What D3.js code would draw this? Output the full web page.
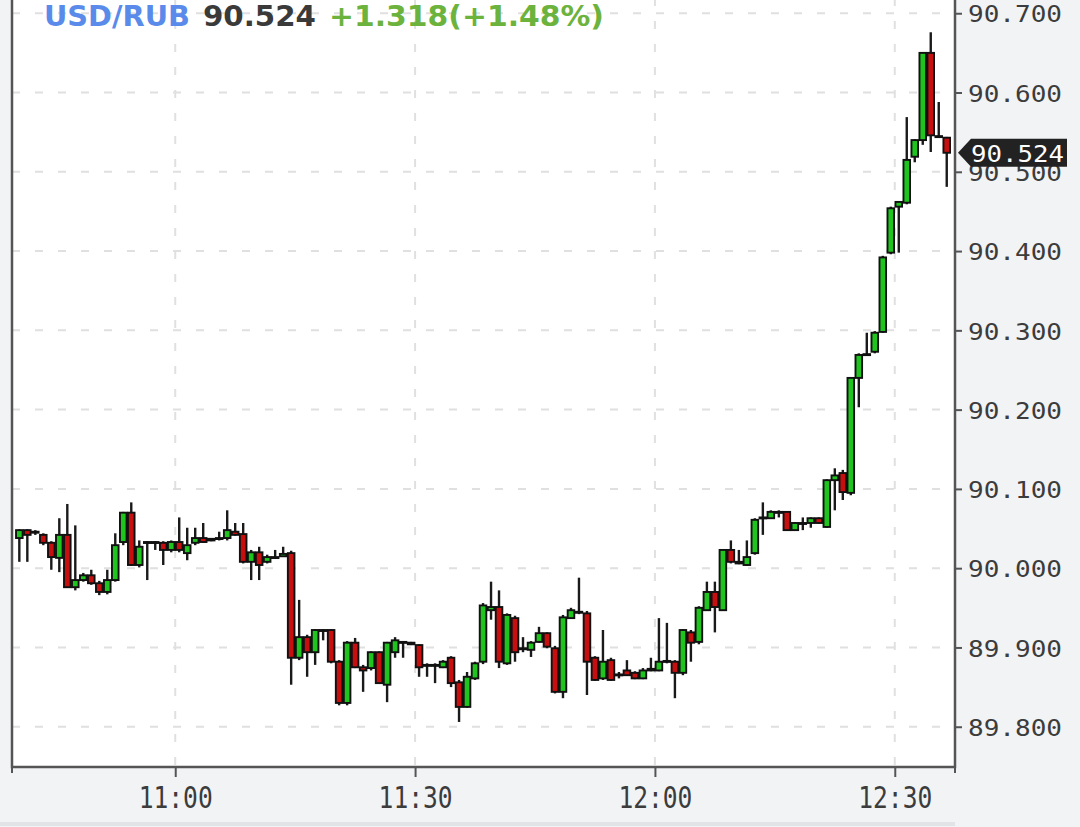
<!DOCTYPE html>
<html>
<head>
<meta charset="utf-8">
<script src="https://cdn.jsdelivr.net/npm/d3@7"></script>
<style>
  body { margin: 0; background: #f2f3f5; }
  svg { display: block; }
</style>
</head>
<body>
<svg id="chart"></svg>
<script>
// 1 minute USD/RUB candles, 10:40 .. 12:36
let symbol = 'USD/RUB'
let change = '+1.318'
let changePct = '(+1.48%)'

let open = [90.038, 90.048, 90.046, 90.042, 90.032, 90.013, 90.042, 89.976, 89.985, 89.991,
  89.981, 89.970, 89.985, 90.033, 90.070, 90.004, 90.032, 90.033, 90.032, 90.023,
  90.033, 90.019, 90.032, 90.038, 90.035, 90.037, 90.038, 90.046, 90.043, 90.008,
  90.020, 90.008, 90.014, 90.015, 90.019, 89.887, 89.913, 89.894, 89.922, 89.922,
  89.882, 89.830, 89.906, 89.875, 89.874, 89.894, 89.853, 89.894, 89.907, 89.906,
  89.903, 89.878, 89.877, 89.875, 89.887, 89.856, 89.825, 89.861, 89.882, 89.947,
  89.951, 89.880, 89.937, 89.899, 89.897, 89.907, 89.918, 89.899, 89.844, 89.937,
  89.945, 89.943, 89.887, 89.861, 89.884, 89.866, 89.871, 89.868, 89.861, 89.871,
  89.871, 89.882, 89.882, 89.868, 89.919, 89.907, 89.947, 89.970, 89.947, 90.023,
  90.008, 90.004, 90.019, 90.063, 90.063, 90.071, 90.071, 90.048, 90.057, 90.057,
  90.063, 90.052, 90.111, 90.120, 90.095, 90.240, 90.269, 90.273, 90.298, 90.398,
  90.456, 90.461, 90.519, 90.540, 90.650, 90.545, 90.543]

let high = [90.049, 90.049, 90.048, 90.044, 90.034, 90.063, 90.081, 90.054, 89.994, 89.998,
  89.984, 89.998, 90.044, 90.071, 90.083, 90.035, 90.034, 90.034, 90.034, 90.035,
  90.064, 90.051, 90.051, 90.057, 90.038, 90.046, 90.073, 90.057, 90.057, 90.023,
  90.027, 90.017, 90.023, 90.027, 90.022, 89.960, 89.916, 89.923, 89.923, 89.923,
  89.884, 89.908, 89.912, 89.878, 89.895, 89.895, 89.907, 89.913, 89.908, 89.907,
  89.904, 89.880, 89.880, 89.884, 89.889, 89.859, 89.869, 89.882, 89.956, 89.983,
  89.972, 89.943, 89.940, 89.913, 89.908, 89.926, 89.919, 89.902, 89.941, 89.950,
  89.988, 89.946, 89.889, 89.922, 89.887, 89.869, 89.884, 89.870, 89.874, 89.887,
  89.937, 89.931, 89.884, 89.923, 89.922, 89.952, 89.983, 89.983, 90.024, 90.035,
  90.023, 90.035, 90.063, 90.083, 90.073, 90.073, 90.072, 90.058, 90.064, 90.064,
  90.064, 90.112, 90.126, 90.124, 90.241, 90.271, 90.297, 90.299, 90.394, 90.456,
  90.463, 90.569, 90.541, 90.651, 90.676, 90.588, 90.544]

let low = [90.008, 90.008, 90.042, 90.029, 89.998, 89.995, 89.976, 89.972, 89.983, 89.979,
  89.966, 89.967, 89.983, 90.029, 90.003, 90.001, 89.985, 90.023, 90.004, 90.020,
  90.020, 90.010, 90.029, 90.032, 90.034, 90.035, 90.035, 90.041, 90.006, 89.985,
  89.985, 90.006, 90.013, 90.015, 89.853, 89.884, 89.863, 89.878, 89.909, 89.880,
  89.827, 89.827, 89.874, 89.844, 89.871, 89.854, 89.831, 89.887, 89.887, 89.903,
  89.863, 89.863, 89.855, 89.874, 89.850, 89.806, 89.824, 89.859, 89.879, 89.935,
  89.874, 89.878, 89.882, 89.894, 89.888, 89.906, 89.899, 89.842, 89.836, 89.936,
  89.942, 89.840, 89.858, 89.859, 89.858, 89.861, 89.864, 89.860, 89.860, 89.870,
  89.870, 89.880, 89.836, 89.865, 89.882, 89.904, 89.946, 89.919, 89.946, 90.006,
  90.005, 90.003, 90.017, 90.042, 90.062, 90.064, 90.047, 90.047, 90.048, 90.051,
  90.056, 90.051, 90.073, 90.086, 90.092, 90.203, 90.268, 90.271, 90.297, 90.396,
  90.398, 90.459, 90.512, 90.534, 90.525, 90.543, 90.481]

let close = [90.048, 90.042, 90.046, 90.032, 90.014, 90.042, 89.976, 89.985, 89.991, 89.981,
  89.970, 89.985, 90.029, 90.070, 90.004, 90.027, 90.033, 90.032, 90.023, 90.033,
  90.023, 90.029, 90.038, 90.033, 90.037, 90.038, 90.048, 90.042, 90.008, 90.020,
  90.004, 90.014, 90.014, 90.018, 89.887, 89.913, 89.894, 89.922, 89.922, 89.882,
  89.830, 89.906, 89.875, 89.871, 89.894, 89.855, 89.906, 89.909, 89.906, 89.904,
  89.875, 89.877, 89.878, 89.882, 89.855, 89.825, 89.863, 89.880, 89.953, 89.951,
  89.882, 89.941, 89.894, 89.898, 89.906, 89.918, 89.901, 89.844, 89.938, 89.947,
  89.945, 89.882, 89.859, 89.882, 89.859, 89.865, 89.865, 89.861, 89.871, 89.873,
  89.882, 89.883, 89.868, 89.922, 89.906, 89.950, 89.970, 89.951, 90.023, 90.008,
  90.006, 90.014, 90.061, 90.064, 90.071, 90.071, 90.048, 90.057, 90.057, 90.063,
  90.057, 90.111, 90.117, 90.096, 90.240, 90.269, 90.270, 90.297, 90.392, 90.454,
  90.462, 90.515, 90.540, 90.650, 90.546, 90.544, 90.524]

let yTicks = [89.8, 89.9, 90.0, 90.1, 90.2, 90.3, 90.4, 90.5, 90.6, 90.7]
let xTickLabels = ['11:00', '11:30', '12:00', '12:30']

let width = 1080
let height = 827
let plot = { left: 12, right: 955, top: -2, bottom: 767 }
let day = '2023-08-14T'

let parseTime = d3.timeParse('%Y-%m-%dT%H:%M:%S')
let times = d3.timeMinute.range(parseTime(day + '10:40:00'), parseTime(day + '12:37:00'))

let candles = times.map((t, i) => ({
  t: t, o: open[i], h: high[i], l: low[i], c: close[i]
}))

let svg = d3.select('#chart')
  .attr('width', width)
  .attr('height', height)
  .style('font-family', 'DejaVu Sans Mono, monospace')

let x = d3.scaleTime()
  .domain([parseTime(day + '10:39:35'), parseTime(day + '12:37:32')])
  .range([plot.left, plot.right])

let y = d3.scaleLinear()
  .domain([89.7492, 90.7167])
  .range([plot.bottom, 0])

let mid = t => x(new Date(t.getTime() + 30000))

svg.append('rect')
  .attr('width', width).attr('height', height)
  .attr('fill', '#f2f3f5')

svg.append('line')
  .attr('x1', 0).attr('x2', plot.right)
  .attr('y1', 824).attr('y2', 824)
  .attr('stroke', '#e2e3e6').attr('stroke-width', 4)

svg.append('rect')
  .attr('x', plot.left).attr('y', plot.top)
  .attr('width', plot.right - plot.left)
  .attr('height', plot.bottom - plot.top)
  .attr('fill', '#fff')

// grid
let xTicks = xTickLabels.map(s => parseTime(day + s + ':00'))

svg.append('g')
  .selectAll('line')
  .data(yTicks)
  .enter().append('line')
  .attr('x1', plot.left).attr('x2', plot.right)
  .attr('y1', d => y(d)).attr('y2', d => y(d))
  .attr('stroke', '#e0e0e0').attr('stroke-width', 2)
  .attr('stroke-dasharray', '8,15')

svg.append('g')
  .selectAll('line')
  .data(xTicks)
  .enter().append('line')
  .attr('x1', d => x(d)).attr('x2', d => x(d))
  .attr('y1', plot.top).attr('y2', plot.bottom)
  .attr('stroke', '#e0e0e0').attr('stroke-width', 2)
  .attr('stroke-dasharray', '8,15')

// header
let header = svg.append('g')
  .style('font-family', 'DejaVu Sans, sans-serif')
  .style('font-weight', 'bold')
  .style('font-size', '29px')

header.append('text').attr('x', 44).attr('y', 26).attr('fill', '#5b8bea')
  .attr('textLength', 146).attr('lengthAdjust', 'spacingAndGlyphs').text(symbol)
header.append('text').attr('x', 203).attr('y', 26).attr('fill', '#3a3a3a')
  .attr('textLength', 113).attr('lengthAdjust', 'spacingAndGlyphs')
  .text(d3.format('.3f')(close[close.length - 1]))
header.append('text').attr('x', 329).attr('y', 26).attr('fill', '#6cb33e')
  .attr('textLength', 275).attr('lengthAdjust', 'spacingAndGlyphs')
  .text(change + changePct)

// candles
let candleG = svg.append('g')
  .selectAll('g')
  .data(candles)
  .enter().append('g')

candleG.append('line')
  .attr('x1', d => mid(d.t)).attr('x2', d => mid(d.t))
  .attr('y1', d => y(d.h)).attr('y2', d => y(d.l))
  .attr('stroke', '#1a1a1a').attr('stroke-width', 2.4)

candleG.append('rect')
  .attr('x', d => mid(d.t) - 3.3)
  .attr('width', 6.6)
  .attr('y', d => y(Math.max(d.o, d.c)))
  .attr('height', d => Math.max(1, Math.abs(y(d.o) - y(d.c))))
  .attr('fill', d => d.c > d.o ? '#1fc41f' : d.c < d.o ? '#c80f0f' : '#1a1a1a')
  .attr('stroke', '#111').attr('stroke-width', 1.9)

// axes frame
svg.append('path')
  .attr('d', `M${plot.left},${plot.top}V${plot.bottom}H${plot.right}V${plot.top}`)
  .attr('fill', 'none').attr('stroke', '#555').attr('stroke-width', 2.5)

// right axis
let yAxis = d3.axisRight(y)
  .tickValues(yTicks)
  .tickSize(7)
  .tickPadding(6)
  .tickFormat(d3.format('.3f'))

let yAxisG = svg.append('g')
  .attr('transform', `translate(${plot.right},0)`)
  .call(yAxis)
yAxisG.select('.domain').remove()
yAxisG.selectAll('line').attr('stroke', '#555').attr('stroke-width', 2)
yAxisG.selectAll('text')
  .attr('fill', '#3c3c3c')
  .attr('dy', '0.38em')
  .attr('x', 13)
  .style('font-family', 'DejaVu Sans Mono, monospace')
  .style('font-size', '23px')
  .attr('textLength', 94)
  .attr('lengthAdjust', 'spacingAndGlyphs')

// bottom axis
let xAxis = d3.axisBottom(x)
  .tickValues(xTicks)
  .tickSize(10)
  .tickPadding(8)
  .tickFormat(d3.timeFormat('%H:%M'))

let xAxisG = svg.append('g')
  .attr('transform', `translate(0,${plot.bottom})`)
  .call(xAxis)
xAxisG.select('.domain').remove()
xAxisG.selectAll('line').attr('stroke', '#555').attr('stroke-width', 2)
xAxisG.selectAll('text')
  .attr('fill', '#3c3c3c')
  .attr('y', 41)
  .attr('dy', 0)
  .style('font-family', 'DejaVu Sans Mono, monospace')
  .style('font-size', '31px')
  .attr('textLength', 74)
  .attr('lengthAdjust', 'spacingAndGlyphs')

svg.append('g')
  .selectAll('line')
  .data([plot.left, plot.right])
  .enter().append('line')
  .attr('x1', d => d).attr('x2', d => d)
  .attr('y1', plot.bottom).attr('y2', plot.bottom + 6)
  .attr('stroke', '#555').attr('stroke-width', 2)

// last price flag
let last = close[close.length - 1]
let ly = y(last)
svg.append('path')
  .attr('d', `M${plot.right + 3},${ly}L${plot.right + 16},${ly - 14}H1067V${ly + 14}H${plot.right + 16}Z`)
  .attr('fill', '#222')

svg.append('text')
  .attr('x', 971).attr('y', ly + 9)
  .attr('fill', '#fff')
  .style('font-family', 'DejaVu Sans Mono, monospace')
  .style('font-size', '23px')
  .attr('textLength', 93)
  .attr('lengthAdjust', 'spacingAndGlyphs')
  .text(d3.format('.3f')(last))
</script>
</body>
</html>
